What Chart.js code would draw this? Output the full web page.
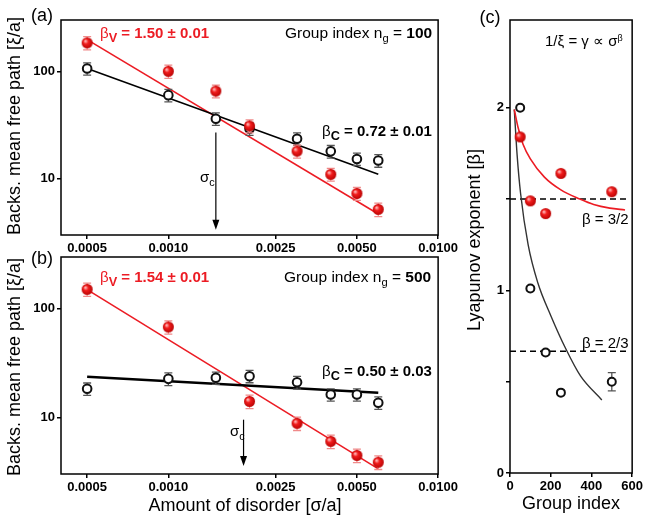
<!DOCTYPE html>
<html>
<head>
<meta charset="utf-8">
<script src="https://cdn.jsdelivr.net/npm/chart.js@4"></script>
<style>
  html, body { margin:0; padding:0; background:#fff; }
  body { width:645px; height:519px; position:relative; overflow:hidden;
         font-family: Arial, "Liberation Sans", sans-serif; color:#000; }
  canvas { position:absolute; }
  .t { position:absolute; white-space:nowrap; line-height:1; transform:translate(-50%,-50%); }
  .l { position:absolute; white-space:nowrap; line-height:1; transform:translateY(-50%); }
  .r90 { transform:translate(-50%,-50%) rotate(-90deg); }
  .sub { font-size:0.72em; position:relative; top:0.35em; }
  .sup { font-size:0.6em; position:relative; top:-0.55em; }
  .red { color:#ec1c24; }
</style>
</head>
<body>
<canvas id="ca" width="460" height="257" style="left:0;top:0"></canvas>
<canvas id="cb" width="460" height="274" style="left:0;top:245px"></canvas>
<canvas id="cc" width="185" height="519" style="left:460px;top:0"></canvas>

<!-- panel labels -->
<div class="t" style="left:42px;top:15px;font-size:18px">(a)</div>
<div class="t" style="left:42px;top:258px;font-size:18px">(b)</div>
<div class="t" style="left:490px;top:17px;font-size:18px">(c)</div>

<!-- axis titles -->
<div class="t r90" style="left:14px;top:126px;font-size:18px">Backs. mean free path [ξ/a]</div>
<div class="t r90" style="left:14px;top:367px;font-size:18px">Backs. mean free path [ξ/a]</div>
<div class="t" style="left:245px;top:505px;font-size:18px">Amount of disorder [σ/a]</div>
<div class="t r90" style="left:474px;top:240px;font-size:18px">Lyapunov exponent [β]</div>
<div class="t" style="left:571px;top:503px;font-size:18px">Group index</div>

<!-- panel (a) annotations -->
<div class="l red" style="left:100px;top:33px;font-size:15px">β<b class="sub" style="font-size:0.85em">V</b><b> = 1.50 ± 0.01</b></div>
<div class="l" style="left:285px;top:33px;font-size:15.5px">Group index n<span class="sub">g</span> = <b>100</b></div>
<div class="l" style="left:322px;top:131px;font-size:15px">β<b class="sub" style="font-size:0.85em">C</b><b> = 0.72 ± 0.01</b></div>
<div class="l" style="left:200px;top:176px;font-size:15px">σ<span class="sub">c</span></div>

<!-- panel (b) annotations -->
<div class="l red" style="left:100px;top:277px;font-size:15px">β<b class="sub" style="font-size:0.85em">V</b><b> = 1.54 ± 0.01</b></div>
<div class="l" style="left:284px;top:277px;font-size:15.5px">Group index n<span class="sub">g</span> = <b>500</b></div>
<div class="l" style="left:322px;top:371px;font-size:15px">β<b class="sub" style="font-size:0.85em">C</b><b> = 0.50 ± 0.03</b></div>
<div class="l" style="left:230px;top:430px;font-size:15px">σ<span class="sub">c</span></div>

<!-- panel (c) annotations -->
<div class="l" style="left:545px;top:40px;font-size:15px">1/ξ = γ ∝ σ<span class="sup">β</span></div>
<div class="l" style="left:582px;top:218px;font-size:15px">β = 3/2</div>
<div class="l" style="left:582px;top:342px;font-size:15px">β = 2/3</div>

<script>
// ---------------- DATA ----------------
const xTicks = [0.0005, 0.0010, 0.0025, 0.0050, 0.0100];
const yTicks = [10, 100];
const disorder = [0.0005, 0.0010, 0.0015, 0.0020, 0.0030, 0.0040, 0.0050, 0.0060];

// panel (a): group index 100
const redA    = [184, 100, 65.5, 31.0, 18.1, 11.0, 7.3, 5.2];
const redAErr = [26, 14, 9, 4.3, 2.5, 1.5, 1.0, 0.75];
const blackA    = [106, 60, 36.2, 29.2, 23.6, 18.0, 15.3, 14.8];
const blackAErr = [14, 8, 4.8, 3.9, 3.1, 2.4, 2.0, 2.0];
const fitX = [0.0005, 0.0060];
const fitRedA = [197, 4.7];
const fitBlackA = [106, 11.0];
const sigmaCA = 0.0015;
const arrowA = [27, 3.35];

// panel (b): group index 500
const redB    = [151, 68, null, 14.0, 8.8, 6.0, 4.45, 3.85];
const redBErr = [21, 9.5, null, 2.0, 1.25, 0.85, 0.63, 0.55];
const blackB    = [18.3, 22.6, 23.1, 23.9, 21.0, 16.2, 16.2, 13.6];
const blackBErr = [2.4, 3.0, 3.0, 3.1, 2.8, 2.1, 2.1, 1.8];
const fitRedB = [150, 3.34];
const fitBlackB = [23.6, 16.8];
const sigmaCB = 0.0019;
const arrowB = [9.5, 3.55];

// panel (c): Lyapunov exponent vs group index
const groupIdx = [50, 100, 175, 250, 500];
const betaC    = [2.00, 1.01, 0.66, 0.44, 0.50];
const betaCErr = [0.012, 0.012, 0.012, 0.012, 0.05];
const betaV    = [1.84, 1.49, 1.42, 1.64, 1.54];
const betaVErr = [0.012, 0.012, 0.012, 0.012, 0.012];
const curveVX = [21, 40, 64, 100, 169, 250, 343, 411, 490, 565];
const curveVY = [1.99, 1.89, 1.80, 1.72, 1.62, 1.55, 1.50, 1.47, 1.45, 1.44];
const curveCX = [21, 35, 52, 89, 137, 201, 274, 347, 451];
const curveCY = [1.99, 1.74, 1.53, 1.25, 1.04, 0.86, 0.68, 0.53, 0.40];
const refX = [0, 580];
const beta32 = [1.5, 1.5];
const beta23 = [2/3, 2/3];
const cXTicks = [0, 200, 400, 600];
const cYTicks = [0, 0.5, 1, 1.5, 2];

// ---------------- STYLE HELPERS ----------------
const RED = '#ec1c24';
Chart.defaults.font.family = 'Arial, "Liberation Sans", sans-serif';
Chart.defaults.color = '#000';

function sphere(r) {
  const c = document.createElement('canvas');
  const s = 2 * r + 2;
  c.width = s; c.height = s;
  const g = c.getContext('2d');
  const gr = g.createRadialGradient(r + 1 - r * 0.35, r + 1 - r * 0.35, r * 0.1, r + 1, r + 1, r + 0.5);
  gr.addColorStop(0, '#ffb4b4');
  gr.addColorStop(0.35, '#f21d1d');
  gr.addColorStop(1, '#b30000');
  g.fillStyle = gr;
  g.beginPath(); g.arc(r + 1, r + 1, r, 0, Math.PI * 2); g.fill();
  return c;
}
const ball = sphere(5.5);

const pts = (xs, ys) => xs.map((x, i) => ({ x: x, y: ys[i] }));

const errorBars = {
  id: 'errbars',
  beforeDatasetDraw(chart, args) {
    const ds = chart.data.datasets[args.index];
    if (!ds.errors) return;
    const xs = chart.scales.x, ys = chart.scales.y, ctx = chart.ctx;
    ctx.save();
    ctx.strokeStyle = ds.errColor;
    ctx.lineWidth = 1.3;
    ds.data.forEach((p, i) => {
      const e = ds.errors[i];
      if (p.y == null || e == null) return;
      const px = xs.getPixelForValue(p.x);
      const y1 = ys.getPixelForValue(p.y + e), y2 = ys.getPixelForValue(p.y - e);
      ctx.beginPath();
      ctx.moveTo(px, y1); ctx.lineTo(px, y2);
      ctx.moveTo(px - 4, y1); ctx.lineTo(px + 4, y1);
      ctx.moveTo(px - 4, y2); ctx.lineTo(px + 4, y2);
      ctx.stroke();
    });
    ctx.restore();
  }
};

const frame = {
  id: 'frame',
  afterDraw(chart) {
    const a = chart.chartArea, ctx = chart.ctx;
    ctx.save();
    ctx.strokeStyle = '#000';
    ctx.lineWidth = 1.5;
    ctx.strokeRect(a.left, a.top, a.right - a.left, a.bottom - a.top);
    ctx.restore();
  }
};

const sigmaArrow = {
  id: 'sigmaArrow',
  afterDatasetsDraw(chart, args, opts) {
    if (!opts || opts.x == null) return;
    const xs = chart.scales.x, ys = chart.scales.y, ctx = chart.ctx;
    const px = xs.getPixelForValue(opts.x);
    const y1 = ys.getPixelForValue(opts.y1), y2 = ys.getPixelForValue(opts.y2);
    ctx.save();
    ctx.strokeStyle = '#000'; ctx.fillStyle = '#000'; ctx.lineWidth = 1.2;
    ctx.beginPath(); ctx.moveTo(px, y1); ctx.lineTo(px, y2 - 8); ctx.stroke();
    ctx.beginPath(); ctx.moveTo(px - 3.5, y2 - 10); ctx.lineTo(px + 3.5, y2 - 10); ctx.lineTo(px, y2); ctx.closePath(); ctx.fill();
    ctx.restore();
  }
};

function logPanel(id, red, redErr, black, blackErr, fitR, fitB, fitBWidth, arrowX, arrowY, padTop, xAxisH) {
  return new Chart(document.getElementById(id), {
    type: 'scatter',
    data: {
      datasets: [
        { data: pts(disorder, red), errors: redErr, errColor: '#f08a8a',
          pointStyle: ball, pointRadius: 5.5, showLine: false, order: 0 },
        { data: pts(disorder, black), errors: blackErr, errColor: '#555',
          pointStyle: 'circle', pointRadius: 4.3, borderWidth: 2, borderColor: '#111',
          backgroundColor: '#fff', showLine: false, order: 1 },
        { data: pts(fitX, fitR), showLine: true, borderColor: RED, borderWidth: 1.6,
          pointRadius: 0, order: 3 },
        { data: pts(fitX, fitB), showLine: true, borderColor: '#000', borderWidth: fitBWidth,
          pointRadius: 0, order: 2 }
      ]
    },
    options: {
      responsive: false, animation: false, devicePixelRatio: 1,
      layout: { padding: { top: padTop, right: 11, left: 0, bottom: 0 } },
      plugins: { legend: { display: false }, tooltip: { enabled: false },
                 sigmaArrow: { x: arrowX, y1: arrowY[0], y2: arrowY[1] } },
      scales: {
        x: { type: 'logarithmic', min: 0.0004, max: 0.01,
             afterBuildTicks: s => { s.ticks = xTicks.map(v => ({ value: v })); },
             afterFit: s => { s.height = xAxisH; },
             ticks: { callback: v => Number(v).toFixed(4), font: { size: 13, weight: 'bold' },
                      color: '#000', maxRotation: 0, autoSkip: false, padding: 2 },
             grid: { display: true, drawOnChartArea: false, tickLength: 4, color: '#000', lineWidth: 1.5 },
             border: { display: false } },
        y: { type: 'logarithmic', min: 3, max: 300,
             afterBuildTicks: s => { s.ticks = yTicks.map(v => ({ value: v })); },
             afterFit: s => { s.width = 61; },
             ticks: { callback: v => String(v), font: { size: 13, weight: 'bold' },
                      color: '#000', autoSkip: false, padding: 2 },
             grid: { display: true, drawOnChartArea: false, tickLength: 4, color: '#000', lineWidth: 1.5 },
             border: { display: false } }
      }
    },
    plugins: [errorBars, frame, sigmaArrow]
  });
}

logPanel('ca', redA, redAErr, blackA, blackAErr, fitRedA, fitBlackA, 1.6, sigmaCA, arrowA, 20, 22);
logPanel('cb', redB, redBErr, blackB, blackBErr, fitRedB, fitBlackB, 2.6, sigmaCB, arrowB, 12, 45);

new Chart(document.getElementById('cc'), {
  type: 'scatter',
  data: {
    datasets: [
      { data: pts(groupIdx, betaV), errors: betaVErr, errColor: '#f08a8a',
        pointStyle: ball, pointRadius: 5.5, showLine: false, order: 0 },
      { data: pts(groupIdx, betaC), errors: betaCErr, errColor: '#555',
        pointStyle: 'circle', pointRadius: 4, borderWidth: 2, borderColor: '#111',
        backgroundColor: '#fff', showLine: false, order: 1 },
      { data: pts(curveVX, curveVY), showLine: true, borderColor: RED, borderWidth: 1.6,
        pointRadius: 0, cubicInterpolationMode: 'monotone', order: 2 },
      { data: pts(curveCX, curveCY), showLine: true, borderColor: '#333', borderWidth: 1.4,
        pointRadius: 0, cubicInterpolationMode: 'monotone', order: 3 },
      { data: pts(refX, beta32), showLine: true, borderColor: '#000', borderWidth: 1.5,
        borderDash: [6, 4], pointRadius: 0, order: 4 },
      { data: pts(refX, beta23), showLine: true, borderColor: '#000', borderWidth: 1.5,
        borderDash: [6, 4], pointRadius: 0, order: 5 }
    ]
  },
  options: {
    responsive: false, animation: false, devicePixelRatio: 1,
    layout: { padding: { top: 20, right: 11, left: 0, bottom: 0 } },
    plugins: { legend: { display: false }, tooltip: { enabled: false } },
    scales: {
      x: { type: 'linear', min: 0, max: 600,
           afterBuildTicks: s => { s.ticks = cXTicks.map(v => ({ value: v })); },
           afterFit: s => { s.height = 46; },
           ticks: { font: { size: 13, weight: 'bold' }, color: '#000', maxRotation: 0, autoSkip: false, padding: 2 },
           grid: { display: true, drawOnChartArea: false, tickLength: 4, color: '#000', lineWidth: 1.5 },
           border: { display: false } },
      y: { type: 'linear', min: 0, max: 2.48,
           afterBuildTicks: s => { s.ticks = cYTicks.map(v => ({ value: v })); },
           afterFit: s => { s.width = 50; },
           ticks: { callback: v => (Number.isInteger(v) ? String(v) : ''), font: { size: 13, weight: 'bold' },
                    color: '#000', autoSkip: false, padding: 2 },
           grid: { display: true, drawOnChartArea: false, tickLength: 4, color: '#000', lineWidth: 1.5 },
           border: { display: false } }
    }
  },
  plugins: [errorBars, frame]
});
</script>
</body>
</html>
